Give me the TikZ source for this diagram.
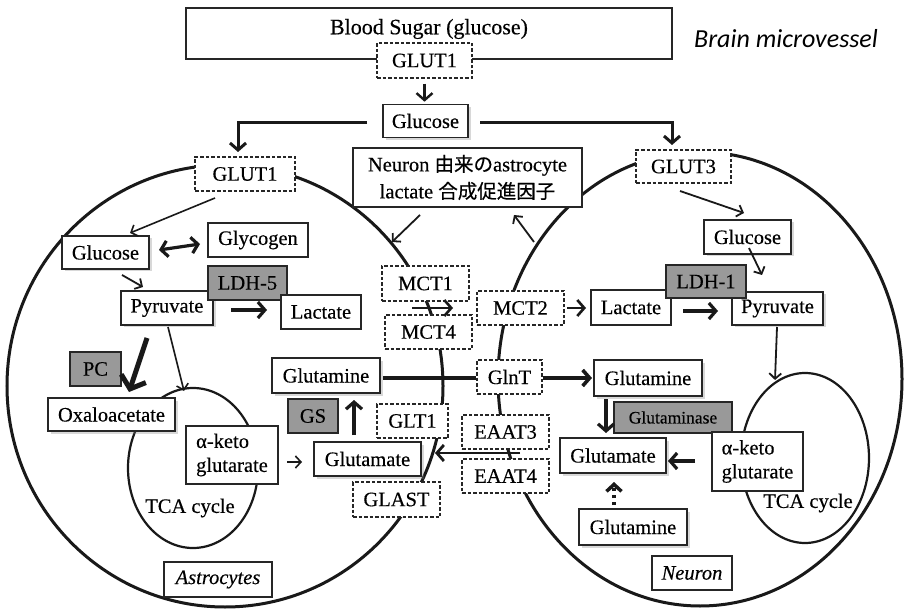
\documentclass[tikz,border=0pt]{standalone}
\usepackage{fontspec}
\setmainfont{Liberation Serif}[UprightFeatures={FakeBold=0.35},ItalicFeatures={FakeBold=0.35}]
\newfontfamily\cjkfont{Noto Sans CJK JP}[FakeBold=0.4]
\newfontfamily\calfont{Carlito}
\usetikzlibrary{arrows.meta,shadows}
\begin{document}
\begin{tikzpicture}[x=1pt,y=-1pt,
  base/.style={inner sep=0pt, font=\fontsize{20.5}{24}\selectfont, text=black},
  sbox/.style={base, draw=black!85, line width=1.6pt, fill=white},
  shbox/.style={sbox, drop shadow={shadow xshift=2.5pt, shadow yshift=-2.5pt, opacity=0.3}},
  gbox/.style={base, draw=black!85, line width=1.6pt, fill=black!40},
  dbox/.style={base, draw=black!85, line width=1.3pt, dash pattern=on 3.5pt off 2pt, fill=white},
  wh/.style 2 args={minimum width=#1pt, minimum height=#2pt},
  memb/.style={line width=3pt, black!90},
  tcaring/.style={line width=2.2pt, black!90},
  ar/.style={line width=1.6pt, black!90, -{Straight Barb[length=5.5pt,width=12pt]}},
  arm/.style={line width=3pt, black!90, -{Straight Barb[length=7pt,width=16pt]}},
  arb/.style={line width=5pt, black!90, -{Straight Barb[length=11pt,width=26pt]}},
  arr2/.style={line width=3.2pt, black!90, {Straight Barb[length=6.5pt,width=16pt]}-{Straight Barb[length=6.5pt,width=16pt]}},
  ardot/.style={line width=3.5pt, black!90, dash pattern=on 3.5pt off 3.5pt, -{Straight Barb[length=7pt,width=15pt]}}
]
\useasboundingbox (0,0) rectangle (907,609);
\fill[white] (0,0) rectangle (907,609);

% membranes and TCA rings
\draw[memb] (225,386) ellipse [x radius=218pt, y radius=221pt];
\draw[memb] (700,379) ellipse [x radius=202pt, y radius=227pt];
\draw[tcaring] (193,468) ellipse [x radius=65pt, y radius=80pt];
\draw[tcaring] (805,458) ellipse [x radius=64pt, y radius=85pt];

% title
\node[sbox, wh={486}{51}] (blood) at (429,33.5) {};
\node[base, font=\fontsize{22}{24}\selectfont] (bloodtxt) at (429,29) {Blood Sugar (glucose)};
\node[base, font=\calfont\itshape\fontsize{26}{30}\selectfont] (micro) at (786,39) {Brain microvessel};

% central
\node[dbox, wh={95}{35}] (glut1top) at (424.5,60.5) {GLUT1};
\node[shbox, wh={85}{33}] (gluC) at (425.5,121) {Glucose};
\node[dbox, wh={100}{34}] (glut1A) at (245,174) {GLUT1};
\node[dbox, wh={95}{33}] (glut3) at (683.5,166.5) {GLUT3};
\node[sbox, wh={229}{59}, align=center, font=\fontsize{20.5}{27}\selectfont] (neurbox) at (467.5,177.5)
  {Neuron {\cjkfont\fontsize{19.5}{27}\selectfont 由来の}astrocyte\\lactate {\cjkfont\fontsize{19.5}{27}\selectfont 合成促進因子}};

% astrocyte
\node[shbox, wh={87}{33}] (gluA) at (105.5,252.5) {Glucose};
\node[sbox, line width=1.9pt, wh={100}{34}] (glyco) at (258,240) {Glycogen};
\node[shbox, wh={92}{34}] (pyrA) at (167,308) {Pyruvate};
\node[gbox, wh={79}{34}] (ldh5) at (247.5,283) {LDH-5};
\node[sbox, wh={80}{34}] (lacA) at (321,312) {Lactate};
\node[gbox, wh={51}{34}] (pc) at (95.5,369) {PC};
\node[shbox, wh={127}{33}] (oxa) at (111.5,414.5) {Oxaloacetate};
\node[sbox, wh={92}{58}, align=left] (akgA) at (232,455) {α-keto\\glutarate};
\node[base] (tcaA) at (190,508) {TCA cycle};
\node[shbox, wh={107}{34}] (gluaA) at (367.5,459) {Glutamate};
\node[gbox, wh={50}{34}] (gs) at (313,416) {GS};
\node[shbox, line width=1.9pt, wh={108}{35}] (glnA) at (326,375.5) {Glutamine};
\node[sbox, wh={108}{35}] (astroLab) at (218,579.5) {\itshape Astrocytes};

% transporters
\node[dbox, wh={87}{35}] (mct1) at (425.5,283.5) {MCT1};
\node[dbox, wh={87}{34}] (mct4) at (428.5,332) {MCT4};
\node[dbox, wh={71}{34}] (glt1) at (412.5,421) {GLT1};
\node[dbox, wh={87}{35}] (glast) at (396.5,499.5) {GLAST};
\node[dbox, wh={87}{34}] (mct2) at (520.5,308) {MCT2};
\node[dbox, wh={65}{34}] (glnt) at (509.5,377) {GlnT};
\node[dbox, wh={87}{34}] (eaat3) at (505.5,432) {EAAT3};
\node[dbox, wh={87}{34}] (eaat4) at (505.5,476) {EAAT4};

% neuron
\node[shbox, wh={87}{34}] (gluN) at (747.5,237) {Glucose};
\node[sbox, wh={80}{35}] (lacN) at (631,307.5) {Lactate};
\node[shbox, wh={91}{33}] (pyrN) at (777.5,308.5) {Pyruvate};
\node[gbox, wh={80}{33}] (ldh1) at (706,281.5) {LDH-1};
\node[shbox, line width=1.9pt, wh={108}{36}] (glnN) at (648,378) {Glutamine};
\node[gbox, wh={118}{31}, font=\fontsize{17.5}{20}\selectfont] (glnase) at (673,417.5) {Glutaminase};
\node[shbox, wh={106}{35}] (gluaN) at (613,455.5) {Glutamate};
\node[sbox, wh={91}{59}, align=left] (akgN) at (757.5,461.5) {α-keto\\glutarate};
\node[base] (tcaN) at (808,503) {TCA cycle};
\node[shbox, line width=2.1pt, wh={108}{36}] (glnN2) at (633,527) {Glutamine};
\node[sbox, wh={80}{34}] (neurLab) at (692,573) {\itshape Neuron};

% arrow end coordinates
\coordinate (c2a) at (367,123); \coordinate (c2b) at (238,152);
\coordinate (c3a) at (480,123); \coordinate (c3b) at (672,145);
\coordinate (c4a) at (215,198); \coordinate (c4b) at (130,233);
\coordinate (c5a) at (159,250); \coordinate (c5b) at (200,244);
\coordinate (c6a) at (122,275); \coordinate (c6b) at (143,287);
\coordinate (c7a) at (231,310); \coordinate (c7b) at (267,310);
\coordinate (c8a) at (147,338); \coordinate (c8b) at (129,392);
\coordinate (c9a) at (168,327); \coordinate (c9b) at (184,391);
\coordinate (c10a) at (287,462); \coordinate (c10b) at (302,462);
\coordinate (c11a) at (354,435); \coordinate (c11b) at (354,400);
\coordinate (c12a) at (383,378);
\coordinate (c13a) at (543,378); \coordinate (c13b) at (592,378);
\coordinate (c14a) at (412,308); \coordinate (c14b) at (453,308);
\coordinate (c15a) at (567,308); \coordinate (c15b) at (586,308);
\coordinate (c16a) at (683,311); \coordinate (c16b) at (718,311);
\coordinate (c17a) at (680,191); \coordinate (c17b) at (744,213);
\coordinate (c18a) at (749,248); \coordinate (c18b) at (762,275);
\coordinate (c19a) at (777,327); \coordinate (c19b) at (775,380);
\coordinate (c20a) at (695,461); \coordinate (c20b) at (668,461);
\coordinate (c21a) at (606,399); \coordinate (c21b) at (606,433);
\coordinate (c22a) at (614,505); \coordinate (c22b) at (614,482);
\coordinate (c23a) at (520,453); \coordinate (c23b) at (435,453);
\coordinate (c24a) at (420,215); \coordinate (c24b) at (392,242);
\coordinate (c25a) at (534,242); \coordinate (c25b) at (514,215);

% connectors
\draw[arm, line width=2.4pt, shorten <=5pt, shorten >=2pt] (glut1top.south) -- (glut1top.south |- gluC.north);
\draw[arm] (c2a) -| (c2b);
\draw[arm] (c3a) -| (c3b);
\draw[ar] (c4a) -- (c4b);
\draw[arr2] (c5a) -- (c5b);
\draw[ar, line width=1.8pt] (c6a) -- (c6b);
\draw[arm, line width=3.2pt] (c7a) -- (c7b);
\draw[arb] (c8a) -- (c8b);
\draw[ar] (c9a) -- (c9b);
\draw[ar] (c10a) -- (c10b);
\draw[arm, line width=3.2pt] (c11a) -- (c11b);
\draw[line width=3.2pt, black!90] (c12a) -- (c12a -| glnt.west);
\draw[arm, line width=3.6pt] (c13a) -- (c13b);
\draw[arm, line width=2.6pt] (c14a) -- (c14b);
\draw[arm, line width=2.6pt] (c15a) -- (c15b);
\draw[arm, line width=3.2pt] (c16a) -- (c16b);
\draw[ar, line width=1.8pt] (c17a) -- (c17b);
\draw[ar, line width=1.8pt] (c18a) -- (c18b);
\draw[ar, line width=1.8pt] (c19a) -- (c19b);
\draw[arm, line width=3.2pt] (c20a) -- (c20b);
\draw[arm, line width=3.2pt] (c21a) -- (c21b);
\draw[ardot] (c22a) -- (c22b);
\draw[arm, line width=2.8pt] (c23a) -- (c23b);
\draw[ar, line width=1.8pt] (c24a) -- (c24b);
\draw[ar, line width=1.8pt] (c25a) -- (c25b);
\end{tikzpicture}
\end{document}
